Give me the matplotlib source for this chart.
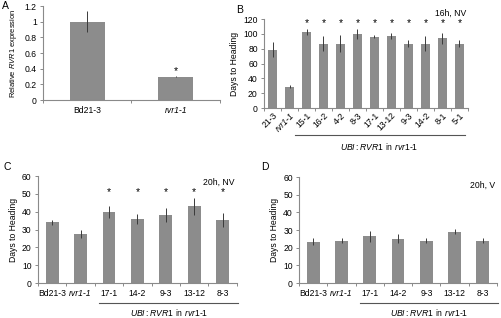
import matplotlib
matplotlib.use('Agg')
import matplotlib.pyplot as plt
import numpy as np

plt.rcParams['font.family'] = ['Liberation Sans', 'DejaVu Sans']
plt.rcParams['font.size'] = 6.2
plt.rcParams['mathtext.fontset'] = 'custom'
plt.rcParams['mathtext.rm'] = 'Liberation Sans'
plt.rcParams['mathtext.it'] = 'Liberation Sans:italic'

# panel A: relative RVR1 expression
a_labels = ["Bd21-3", "rvr1-1"]
a_vals = [1.0, 0.30]
a_errs = [0.13, 0.01]
a_star = [False, True]

# panel B: 16h, NV
b_labels = ["21-3", "rvr1-1", "15-1", "16-2", "4-2", "8-3", "17-1", "13-12",
            "9-3", "14-2", "8-1", "5-1"]
b_vals = [79, 29, 102, 87, 87, 100, 96, 97, 87, 87, 94, 87]
b_errs = [10, 1.5, 4, 10, 11, 7, 2, 4, 5, 10, 7, 5]
b_star = [False, False] + [True] * 10

# panels C and D share the lines
cd_labels = ["Bd21-3", "rvr1-1", "17-1", "14-2", "9-3", "13-12", "8-3"]
c_vals = [34, 27.5, 40, 36, 38, 43, 35.5]
c_errs = [1.5, 2, 3.5, 3, 4, 5, 4]
c_star = [False, False, True, True, True, True, True]
d_vals = [23.5, 24, 26.5, 25, 24, 29, 24]
d_errs = [2, 1.5, 3, 2.5, 1.5, 1.5, 1.5]

BAR = '#8c8c8c'
AX = '#8a8a8a'
GROUP = r"$\mathit{UBI{:}RVR1}$ in $\mathit{rvr1}$-$\mathit{1}$"


def panel(ax, labels, vals, errs, stars, ymax, ystep, star_y, width=0.45, rot=0):
    x = np.arange(len(vals))
    ax.bar(x, vals, width=width, color=BAR, zorder=2)
    ax.errorbar(x, vals, yerr=errs, fmt='none', ecolor='#3a3a3a', elinewidth=0.7,
                capsize=0, zorder=3)
    for xi, s in zip(x, stars):
        if s:
            ax.text(xi, star_y, '*', ha='center', va='center', fontsize=7.5)
    ax.set_xlim(-0.5, len(vals) - 0.5)
    ax.set_ylim(0, ymax)
    ax.set_yticks(np.arange(0, ymax + ystep / 2, ystep))
    for side in ['top', 'right']:
        ax.spines[side].set_visible(False)
    for side in ['left', 'bottom']:
        ax.spines[side].set_color(AX)
        ax.spines[side].set_linewidth(0.8)
    ax.set_xticks(x)
    if rot:
        ax.set_xticklabels(labels, rotation=rot, ha='right', rotation_mode='anchor')
    else:
        ax.set_xticklabels(labels)
    ax.set_xticks(np.arange(-0.5, len(vals)), minor=True)
    ax.tick_params(axis='x', which='major', length=0, pad=4)
    ax.tick_params(axis='x', which='minor', length=2.5, color=AX, width=0.7)
    ax.tick_params(axis='y', length=2.5, color=AX, width=0.7, pad=2)
    for t in ax.get_xticklabels():
        if t.get_text() == 'rvr1-1':
            t.set_fontstyle('italic')
    return x


def group_label(ax, x0, x1, line_y, text_y):
    ax.plot([x0, x1], [line_y, line_y], transform=ax.get_xaxis_transform(),
            color='#555555', lw=0.8, clip_on=False)
    ax.text((x0 + x1) / 2, text_y, GROUP, transform=ax.get_xaxis_transform(),
            ha='center', va='center')


fig = plt.figure(figsize=(5.01, 3.18), dpi=100)

# A
axA = fig.add_axes([0.0858, 0.6855, 0.353, 0.2956])
panel(axA, a_labels, a_vals, a_errs, a_star, 1.2, 0.2, 0.37, width=0.4)
axA.set_yticklabels(['0', '0.2', '0.4', '0.6', '0.8', '1', '1.2'])
axA.set_ylabel(r"Relative $\mathit{RVR1}$ expression", labelpad=4, fontsize=5.4)
fig.text(0.004, 0.996, 'A', fontsize=7.5, va='top')

# B
axB = fig.add_axes([0.527, 0.660, 0.407, 0.280])
panel(axB, b_labels, b_vals, b_errs, b_star, 120, 20, 114, width=0.5, rot=45)
axB.tick_params(axis='x', which='major', pad=2)
axB.set_ylabel("Days to Heading", labelpad=3)
axB.text(0.99, 1.06, "16h, NV", transform=axB.transAxes, ha='right', va='center')
group_label(axB, 1.3, 11.3, -0.30, -0.43)
fig.text(0.472, 0.985, 'B', fontsize=7.5, va='top')

# C
axC = fig.add_axes([0.0758, 0.110, 0.397, 0.336])
panel(axC, cd_labels, c_vals, c_errs, c_star, 60, 10, 51)
axC.set_ylabel("Days to Heading", labelpad=3)
axC.text(0.99, 0.945, "20h, NV", transform=axC.transAxes, ha='right', va='center')
group_label(axC, 1.65, 6.55, -0.19, -0.275)
fig.text(0.006, 0.492, 'C', fontsize=7.5, va='top')

# D
axD = fig.add_axes([0.597, 0.110, 0.395, 0.333])
panel(axD, cd_labels, d_vals, d_errs, [False] * 7, 60, 10, 51)
axD.set_ylabel("Days to Heading", labelpad=3)
axD.text(0.99, 0.92, "20h, V", transform=axD.transAxes, ha='right', va='center')
group_label(axD, 1.65, 6.55, -0.19, -0.275)
fig.text(0.522, 0.492, 'D', fontsize=7.5, va='top')

fig.savefig('out.png', dpi=100)
